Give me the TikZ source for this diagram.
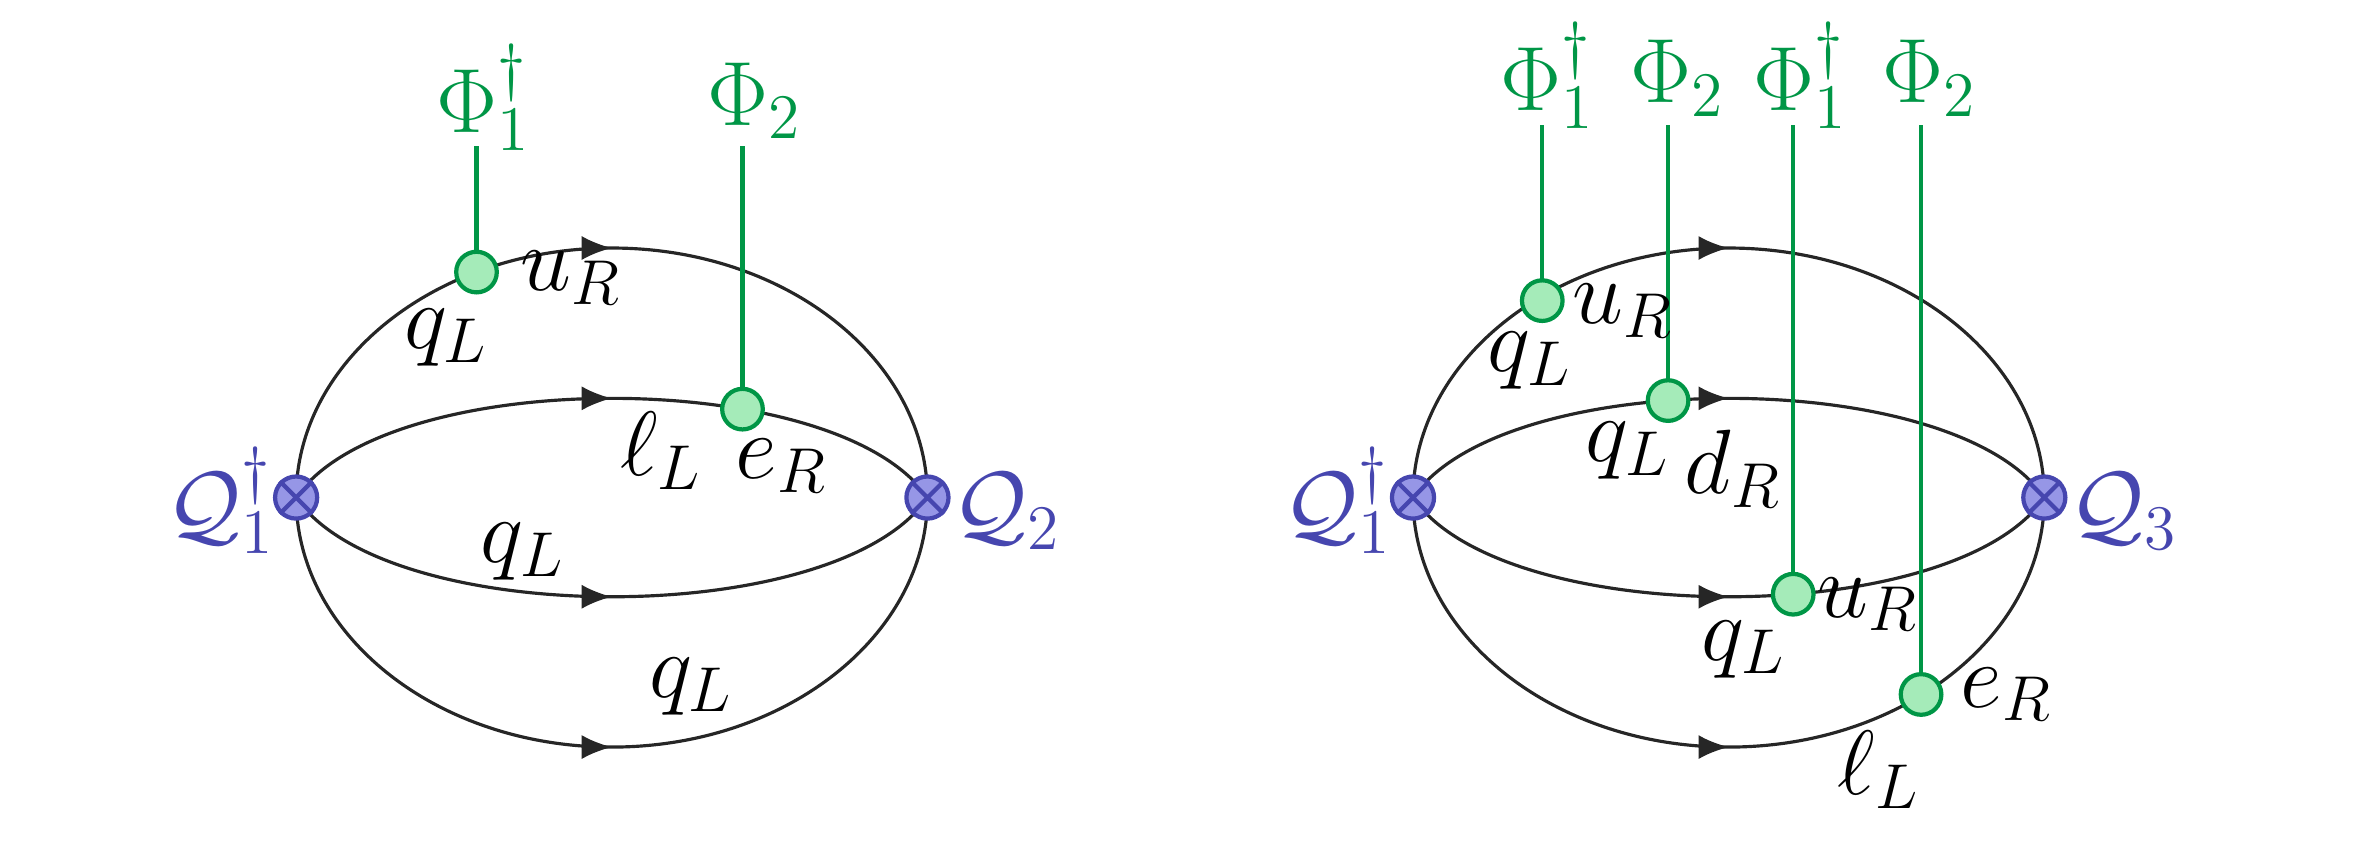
\documentclass[tikz,border=0pt]{standalone}
\usetikzlibrary{decorations.markings,arrows.meta}
\definecolor{higgs}{RGB}{0,150,70}
\definecolor{higgsfill}{RGB}{165,235,185}
\definecolor{opblue}{RGB}{70,70,175}
\definecolor{opfill}{RGB}{150,150,230}
\tikzset{
  prop/.style={semithick, draw=black!85, postaction={decorate}, decoration={markings,
      mark=at position 0.5 with {\arrow{Latex[length=0.2cm,width=0.16cm]}}}},
  vev/.style={circle, draw=higgs, fill=higgsfill, thick, inner sep=0pt, minimum size=0.27cm},
  opdot/.style={circle, draw=opblue, fill=opfill, thick, inner sep=0pt, minimum size=0.28cm},
  lbl/.style={font=\fontsize{17}{20}\selectfont},
  hlbl/.style={font=\fontsize{17}{20}\selectfont, text=higgs},
  olbl/.style={font=\fontsize{17}{20}\selectfont, text=opblue},
}
\newcommand{\opvertex}[2]{%
  \node[opdot] (#1) at #2 {};
  \draw[opblue, thick] (#1.45) -- (#1.225) (#1.135) -- (#1.315);}
\begin{document}
\begin{tikzpicture}[x=0.01cm, y=-0.01cm]
  \useasboundingbox (0,0) rectangle (1568,564);
  % left diagram
  \coordinate (la) at (197,331);
  \coordinate (lb) at (617,331);
  \draw[prop] (la) arc [start angle=180, end angle=0, x radius=210, y radius=-166];
  \draw[prop] (la) arc [start angle=180, end angle=360, x radius=210, y radius=-166];
  \draw[prop] (la) .. controls +(60,-88) and +(-60,-88) .. (lb)
    coordinate[pos=0.665] (lv2);
  \draw[prop] (la) .. controls +(60,88) and +(-60,88) .. (lb);
  \coordinate (lv1) at (317,181);
  \coordinate (lh1) at (317,97);
  \coordinate (lh2) at (494,97);
  \draw[higgs, thick] (lv1) -- (lh1);
  \draw[higgs, thick] (lv2) -- (lh2 -| lv2);
  \node[vev] at (lv1) {};
  \node[vev] at (lv2) {};
  \opvertex{lo1}{(la)}
  \opvertex{lo2}{(lb)}
  \node[hlbl] (lphi1) at (322,65) {$\Phi_1^\dagger$};
  \node[hlbl] (lphi2) at (502,67) {$\Phi_2$};
  \node[olbl] (lq1) at (147,333) {$\mathcal{Q}_1^\dagger$};
  \node[olbl] (lq2) at (670,340) {$\mathcal{Q}_2$};
  \node[lbl] at (297,225) {$q_L$};
  \node[lbl] at (380,185) {$u_R$};
  \node[lbl] at (440,300) {$\ell_L$};
  \node[lbl] at (520,310) {$e_R$};
  \node[lbl] at (348,367) {$q_L$};
  \node[lbl] at (460,457) {$q_L$};
  % right diagram
  \coordinate (ra) at (940,331);
  \coordinate (rb) at (1360,331);
  \draw[prop] (ra) arc [start angle=180, end angle=0, x radius=210, y radius=-166];
  \draw[prop] (ra) arc [start angle=180, end angle=360, x radius=210, y radius=-166];
  \draw[prop] (ra) .. controls +(60,-88) and +(-60,-88) .. (rb)
    coordinate[pos=0.425] (rv2);
  \draw[prop] (ra) .. controls +(60,88) and +(-60,88) .. (rb)
    coordinate[pos=0.58] (rv3);
  \coordinate (rv1) at (1026,200);
  \coordinate (rv4) at (1278,462);
  \coordinate (rtop) at (0,83);
  \foreach \v in {rv1,rv2,rv3,rv4}{
    \draw[higgs, thick] (\v) -- (rtop -| \v);
    \node[vev] at (\v) {};
  }
  \opvertex{ro1}{(ra)}
  \opvertex{ro2}{(rb)}
  \node[hlbl] at (1030,50) {$\Phi_1^\dagger$};
  \node[hlbl] at (1116,52) {$\Phi_2$};
  \node[hlbl] at (1198,50) {$\Phi_1^\dagger$};
  \node[hlbl] at (1284,52) {$\Phi_2$};
  \node[olbl] (rq1) at (890,333) {$\mathcal{Q}_1^\dagger$};
  \node[olbl] (rq3) at (1413,340) {$\mathcal{Q}_3$};
  \node[lbl] at (1018,240) {$q_L$};
  \node[lbl] at (1080,207) {$u_R$};
  \node[lbl] at (1083,300) {$q_L$};
  \node[lbl] at (1153,312) {$d_R$};
  \node[lbl] at (1160,432) {$q_L$};
  \node[lbl] at (1243,402) {$u_R$};
  \node[lbl] at (1335,462) {$e_R$};
  \node[lbl] at (1250,512) {$\ell_L$};
\end{tikzpicture}
\end{document}
